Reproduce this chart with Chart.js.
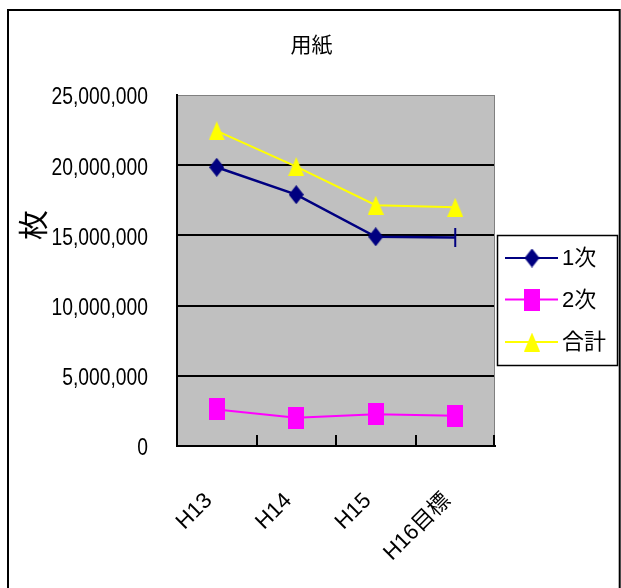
<!DOCTYPE html>
<html><head><meta charset="utf-8">
<script src="https://cdn.jsdelivr.net/npm/chart.js@4/dist/chart.umd.min.js"></script>
<style>html,body{margin:0;padding:0;background:#fff;}#wrap{width:621px;height:588px;position:relative;overflow:hidden}</style>
</head><body><div id="wrap"><canvas id="c" width="621" height="588"></canvas></div>
<script>
const chartTitle = '用紙';
const yAxisTitle = '枚';
const categories = ['H13', 'H14', 'H15', 'H16目標'];
const seriesNames = ['1次', '2次', '合計'];
const first = [19850000, 17900000, 14900000, 14850000];
const second = [2600000, 2020000, 2260000, 2160000];
const total = [22450000, 19900000, 17150000, 17000000];
const yTickValues = [0, 5000000, 10000000, 15000000, 20000000, 25000000];
const yTickLabels = ['0', '5,000,000', '10,000,000', '15,000,000', '20,000,000', '25,000,000'];

const SANS = "'Liberation Sans', Arial, 'Noto Sans CJK JP', sans-serif";
const CJK = "'Noto Sans CJK JP', 'Liberation Sans', sans-serif";

function makeMarker(kind, w, h, color) {
  const c = document.createElement('canvas');
  c.width = w; c.height = h;
  const g = c.getContext('2d');
  g.fillStyle = color;
  g.beginPath();
  if (kind === 'diamond') {
    g.moveTo(w / 2, 0); g.lineTo(w, h / 2); g.lineTo(w / 2, h); g.lineTo(0, h / 2);
  } else if (kind === 'square') {
    g.rect(0, 0, w, h);
  } else {
    g.moveTo(w / 2, 0); g.lineTo(w, h); g.lineTo(0, h);
  }
  g.closePath();
  g.fill();
  return c;
}
const colors = ['#000080', '#ff00ff', '#ffff00'];
const diamond = makeMarker('diamond', 15, 19, colors[0]);
const square = makeMarker('square', 16, 22, colors[1]);
const triangle = makeMarker('triangle', 16, 19, colors[2]);

const decor = {
  id: 'decor',
  beforeDraw(chart) {
    const { ctx, chartArea: a } = chart;
    ctx.save();
    ctx.fillStyle = '#fff';
    ctx.fillRect(0, 0, chart.width, chart.height);
    ctx.fillStyle = '#c0c0c0';
    ctx.fillRect(a.left, a.top, a.right - a.left, a.bottom - a.top);
    ctx.restore();
  },
  beforeDatasetsDraw(chart) {
    const { ctx, chartArea: a } = chart;
    const xs = chart.scales.x;
    ctx.save();
    ctx.strokeStyle = '#808080';
    ctx.lineWidth = 1;
    ctx.beginPath();
    ctx.moveTo(a.right - 0.5, a.top); ctx.lineTo(a.right - 0.5, a.bottom);
    ctx.stroke();
    ctx.strokeStyle = '#000';
    ctx.lineWidth = 2;
    ctx.beginPath();
    for (let i = 0; i < categories.length; i++) {
      const p = i < categories.length - 1
        ? (xs.getPixelForValue(i) + xs.getPixelForValue(i + 1)) / 2
        : a.right - 1;
      ctx.moveTo(Math.round(p), a.bottom);
      ctx.lineTo(Math.round(p), a.bottom - 11);
    }
    ctx.stroke();
    ctx.restore();
  },
  afterDraw(chart) {
    const { ctx } = chart;
    ctx.save();
    ctx.strokeStyle = '#000';
    ctx.lineWidth = 2;
    ctx.strokeRect(8, 10, 611.7, 600);
    ctx.fillStyle = '#000';
    ctx.font = '21px ' + CJK;
    ctx.textAlign = 'center';
    ctx.textBaseline = 'middle';
    ctx.fillText(chartTitle, 311.5, 44);
    ctx.save();
    ctx.translate(33, 225);
    ctx.rotate(-Math.PI / 2);
    ctx.font = '30px ' + CJK;
    ctx.fillText(yAxisTitle, 0, 0);
    ctx.restore();
    ctx.lineWidth = 1.5;
    ctx.strokeStyle = '#000';
    ctx.strokeRect(497.5, 235.5, 120, 130);
    const ys = [258, 299.5, 342];
    const marks = [diamond, square, triangle];
    ctx.textAlign = 'left';
    ctx.font = '22px ' + SANS;
    chart.data.datasets.forEach((ds, i) => {
      ctx.strokeStyle = ds.borderColor;
      ctx.lineWidth = 2;
      ctx.beginPath();
      ctx.moveTo(505, ys[i]); ctx.lineTo(558, ys[i]);
      ctx.stroke();
      const m = marks[i];
      ctx.drawImage(m, 532 - m.width / 2, ys[i] - m.height / 2);
      ctx.fillStyle = '#000';
      ctx.fillText(ds.label, 562, ys[i] + 1);
    });
    ctx.restore();
  }
};

function condenseLabels(s, sx) {
  if (s._condensed) return;
  s._condensed = true;
  const orig = s.drawLabels.bind(s);
  s.drawLabels = function (area) {
    const ctx = this.ctx;
    const ax = this.right - this.options.ticks.padding;
    ctx.save();
    ctx.translate(ax, 0); ctx.scale(sx, 1); ctx.translate(-ax, 0);
    orig(area);
    ctx.restore();
  };
}

new Chart(document.getElementById('c'), {
  type: 'line',
  data: {
    labels: categories,
    datasets: [
      { label: seriesNames[0], data: first, borderColor: colors[0], backgroundColor: colors[0], borderWidth: 2.5,
        pointStyle: [diamond, diamond, diamond, 'line'], pointRotation: [0, 0, 0, 90], pointRadius: 9.5,
        pointBorderWidth: 2, pointBorderColor: colors[0], tension: 0 },
      { label: seriesNames[1], data: second, borderColor: colors[1], backgroundColor: colors[1], borderWidth: 2,
        pointStyle: square, pointRadius: 8, tension: 0 },
      { label: seriesNames[2], data: total, borderColor: colors[2], backgroundColor: colors[2], borderWidth: 2,
        pointStyle: triangle, pointRadius: 8, tension: 0 }
    ]
  },
  options: {
    responsive: false, animation: false, devicePixelRatio: 1,
    layout: { padding: { top: 95, right: 126, left: 0, bottom: 0 } },
    plugins: { legend: { display: false }, title: { display: false }, tooltip: { enabled: false } },
    scales: {
      x: {
        offset: true,
        grid: { display: true, drawOnChartArea: false, drawTicks: false },
        border: { color: '#000', width: 2 },
        ticks: { autoSkip: false, maxRotation: 45, minRotation: 45, padding: 42, labelOffset: -8, color: '#000',
          font: { family: SANS, size: 22 } },
        afterFit(s) { s.height = 142; }
      },
      y: {
        min: 0, max: 25000000,
        ticks: { stepSize: 5000000, padding: 29, labelOffset: 3, color: '#000', font: { family: SANS, size: 23.5 },
          callback: (v) => { const i = yTickValues.indexOf(v); return i >= 0 ? yTickLabels[i] : ''; } },
        grid: { drawTicks: false,
          color: (c) => (c.tick && c.tick.value === 25000000) ? '#808080' : '#000',
          lineWidth: (c) => (c.tick && c.tick.value === 25000000) ? 1 : 2 },
        border: { color: '#000', width: 2 },
        afterFit(s) { s.width = 177; condenseLabels(s, 0.82); }
      }
    }
  },
  plugins: [decor]
});
</script>
</body></html>
